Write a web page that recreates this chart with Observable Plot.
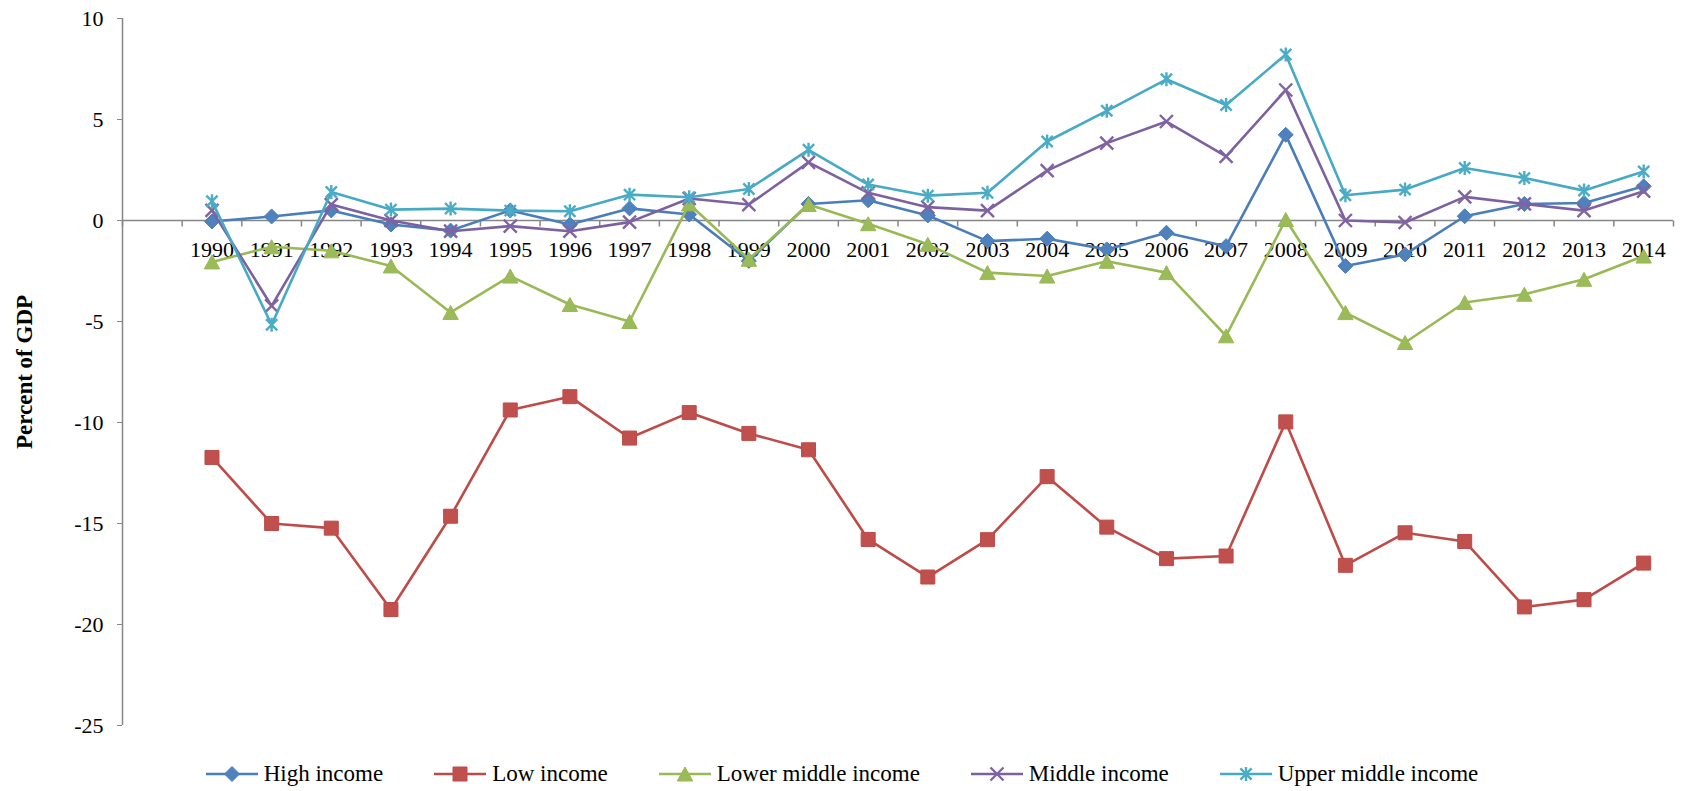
<!DOCTYPE html>
<html>
<head>
<meta charset="utf-8">
<script src="https://cdn.jsdelivr.net/npm/d3@7"></script>
<script src="https://cdn.jsdelivr.net/npm/@observablehq/plot@0.6"></script>
<style>
  html, body { margin: 0; padding: 0; background: #fff; }
  #legend { display: flex; align-items: center; justify-content: center; gap: 51px; height: 34px;
    font-family: "Liberation Serif", "Times New Roman", serif; font-size: 23px; color: #000; }
  #legend .item { display: flex; align-items: center; gap: 6px; white-space: nowrap; }
</style>
</head>
<body>
<div id="chart"></div>
<div id="legend"></div>
<script>
const years = [1990, 1991, 1992, 1993, 1994, 1995, 1996, 1997, 1998, 1999, 2000, 2001, 2002,
  2003, 2004, 2005, 2006, 2007, 2008, 2009, 2010, 2011, 2012, 2013, 2014];

const highIncome = [-0.05, 0.2, 0.5, -0.2, -0.5, 0.5, -0.2, 0.6, 0.3, -2.0, 0.82, 1.0, 0.25,
  -1.02, -0.9, -1.43, -0.61, -1.27, 4.24, -2.25, -1.68, 0.21, 0.82, 0.87, 1.69];
const lowIncome = [-11.73, -15.0, -15.23, -19.26, -14.64, -9.38, -8.72, -10.77, -9.51, -10.54, -11.35, -15.79, -17.65,
  -15.8, -12.68, -15.18, -16.74, -16.61, -9.97, -17.07, -15.46, -15.89, -19.13, -18.77, -16.96];
const lowerMiddleIncome = [-2.05, -1.3, -1.5, -2.25, -4.55, -2.75, -4.16, -5.0, 0.82, -1.92, 0.79, -0.16, -1.18,
  -2.58, -2.75, -2.02, -2.58, -5.71, 0.05, -4.56, -6.04, -4.06, -3.65, -2.91, -1.76];
const middleIncome = [0.5, -4.23, 0.79, 0.0, -0.53, -0.28, -0.53, -0.08, 1.09, 0.79, 2.88, 1.37, 0.66,
  0.49, 2.47, 3.83, 4.9, 3.17, 6.46, 0.0, -0.1, 1.17, 0.82, 0.49, 1.45];
const upperMiddleIncome = [0.95, -5.16, 1.41, 0.54, 0.59, 0.49, 0.46, 1.28, 1.15, 1.56, 3.5, 1.78, 1.23,
  1.37, 3.91, 5.43, 6.99, 5.72, 8.22, 1.25, 1.53, 2.6, 2.1, 1.48, 2.43];

const seriesNames = ["High income", "Low income", "Lower middle income", "Middle income", "Upper middle income"];
const yTicks = [10, 5, 0, -5, -10, -15, -20, -25];
const yLabel = "Percent of GDP";

const serif = "'Liberation Serif', 'Times New Roman', serif";

// marker shapes (Excel style)
const rOf = (size) => Math.sqrt(size / Math.PI);
const diamond = { draw(c, s) { const h = rOf(s); c.moveTo(0, -h); c.lineTo(h, 0); c.lineTo(0, h); c.lineTo(-h, 0); c.closePath(); } };
const square = { draw(c, s) { const h = rOf(s); c.moveTo(-h, -h); c.lineTo(h, -h); c.lineTo(h, h); c.lineTo(-h, h); c.closePath(); } };
const triangle = { draw(c, s) { const h = rOf(s); c.moveTo(0, -h); c.lineTo(h * 1.1, h); c.lineTo(-h * 1.1, h); c.closePath(); } };
const times = { draw(c, s) { const h = rOf(s); c.moveTo(-h, -h); c.lineTo(h, h); c.moveTo(-h, h); c.lineTo(h, -h); } };
const star = { draw(c, s) { const h = rOf(s); const d = h * 0.8; c.moveTo(0, -h); c.lineTo(0, h); c.moveTo(-d, -d); c.lineTo(d, d); c.moveTo(-d, d); c.lineTo(d, -d); } };
const tickMark = { draw(c) { c.moveTo(0, 0); c.lineTo(0, 6); } };

const series = [
  { name: seriesNames[0], values: highIncome, line: "#4A7EBB", fill: "#4F81BD", symbol: diamond, r: 7.5, filled: true },
  { name: seriesNames[1], values: lowIncome, line: "#BE4B48", fill: "#C0504D", symbol: square, r: 7, filled: true },
  { name: seriesNames[2], values: lowerMiddleIncome, line: "#98B954", fill: "#9BBB59", symbol: triangle, r: 7, filled: true },
  { name: seriesNames[3], values: middleIncome, line: "#7D60A0", fill: "#8064A2", symbol: times, r: 6.5, filled: false },
  { name: seriesNames[4], values: upperMiddleIncome, line: "#46AAC5", fill: "#4BACC6", symbol: star, r: 7, filled: false }
];

const first = years[0] - 1.5, last = years[years.length - 1] + 0.5;
const boundaries = d3.range(first, last + 0.01, 1);
const axisColor = "#868686";
const lineWidth = 2.6;

const seriesMarks = series.flatMap(s => {
  const rows = years.map((year, i) => ({ year, value: s.values[i] }));
  return [
    Plot.line(rows, { x: "year", y: "value", stroke: s.line, strokeWidth: lineWidth }),
    Plot.dot(rows, { x: "year", y: "value", symbol: s.symbol, r: s.r,
      fill: s.filled ? s.fill : "none", stroke: s.filled ? s.line : s.fill, strokeWidth: s.filled ? 1 : 2.4 })
  ];
});

const chart = Plot.plot({
  width: 1684,
  height: 757,
  marginLeft: 122,
  marginRight: 11,
  marginTop: 18,
  marginBottom: 32,
  x: { domain: [first, last], axis: null },
  y: { domain: [-25, 10], axis: null },
  style: { fontFamily: serif, fontSize: "22px", color: "#000", background: "#fff" },
  marks: [
    Plot.ruleX([first], { stroke: axisColor, strokeWidth: 1.5 }),
    Plot.axisY({ ticks: yTicks, tickSize: 5, tickPadding: 14, stroke: axisColor, fill: "#000", fontSize: 22,
      fontFamily: serif, label: null, tickFormat: d => String(d) }),
    Plot.ruleY([0], { stroke: axisColor, strokeWidth: 1.5 }),
    Plot.dot(boundaries, { x: d => d, y: 0, symbol: tickMark, r: 1, fill: "none", stroke: axisColor, strokeWidth: 1.5 }),
    Plot.text(years, { x: d => d, y: 0, dy: 29, text: d => String(d), fontSize: 22, fontFamily: serif, fill: "#000" }),
    Plot.text([yLabel], { frameAnchor: "left", rotate: -90, dx: -98, textAnchor: "middle", lineAnchor: "middle",
      fontWeight: "bold", fontSize: 23, fontFamily: serif, fill: "#000" }),
    ...seriesMarks
  ]
});
document.getElementById("chart").appendChild(chart);

// legend
const legend = document.getElementById("legend");
const ns = "http://www.w3.org/2000/svg";
series.forEach(s => {
  const item = document.createElement("div");
  item.className = "item";
  const svg = document.createElementNS(ns, "svg");
  svg.setAttribute("width", 52); svg.setAttribute("height", 20);
  const ln = document.createElementNS(ns, "line");
  ln.setAttribute("x1", 0); ln.setAttribute("x2", 52); ln.setAttribute("y1", 10); ln.setAttribute("y2", 10);
  ln.setAttribute("stroke", s.line); ln.setAttribute("stroke-width", lineWidth);
  svg.appendChild(ln);
  const p = d3.path();
  s.symbol.draw(p, Math.PI * s.r * s.r);
  const path = document.createElementNS(ns, "path");
  path.setAttribute("d", p.toString());
  path.setAttribute("transform", "translate(26,10)");
  path.setAttribute("fill", s.filled ? s.fill : "none");
  path.setAttribute("stroke", s.filled ? s.line : s.fill);
  path.setAttribute("stroke-width", s.filled ? 1 : 2.4);
  svg.appendChild(path);
  item.appendChild(svg);
  const t = document.createElement("span");
  t.textContent = s.name;
  item.appendChild(t);
  legend.appendChild(item);
});
</script>
</body>
</html>
